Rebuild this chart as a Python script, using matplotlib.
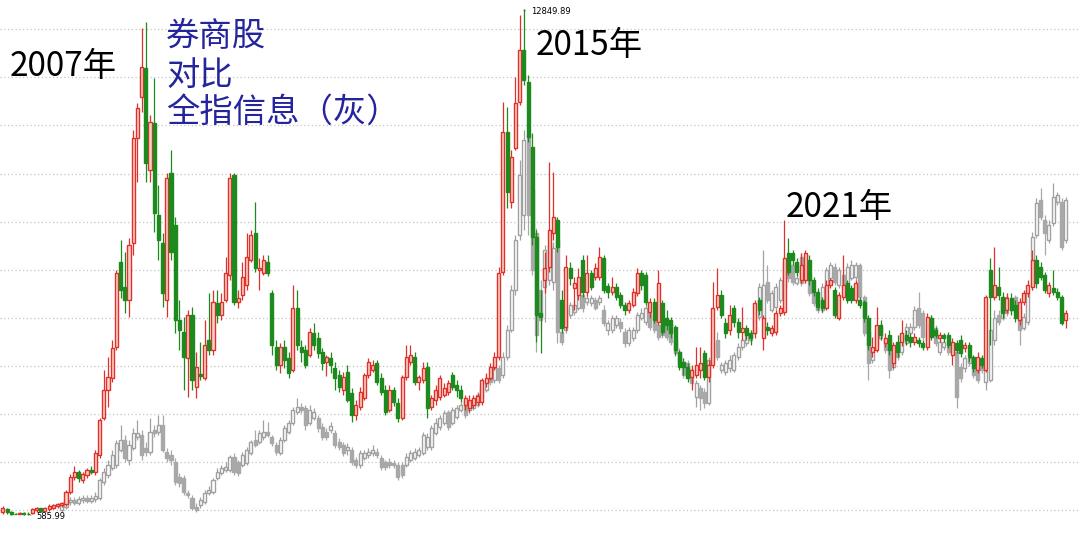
import numpy as np
import matplotlib.pyplot as plt
from matplotlib.ticker import NullLocator

plt.rcParams['font.family'] = ['Noto Sans CJK SC', 'DejaVu Sans']

# 券商股 monthly candles (open / close / high / low)
broker_open = [
    597, 608, 595, 590, 589, 593, 591, 594, 604, 610,
    600, 607, 613, 619, 623, 625, 674, 739, 762, 726,
    748, 771, 762, 846, 1060, 1258, 1355, 1637, 2754, 2363,
    2183, 3094, 5878, 7553, 9020, 4835, 6444, 3672, 3094, 2183,
    4748, 3454, 1931, 1794, 1531, 1991, 1281, 1388, 1355, 1709,
    1607, 2144, 1991, 2183, 2543, 4690, 2157, 2250, 2392, 2788,
    3290, 2622, 2574, 2754, 2278, 1637, 1467, 1637, 1531, 1422,
    2079, 1637, 1607, 1559, 1783, 1730, 1588, 1494, 1531, 1441,
    1380, 1258, 1405, 1235, 1080, 1134, 1198, 1380, 1422, 1485,
    1355, 1258, 1113, 1258, 1163, 1060, 1363, 1494, 1540, 1322,
    1338, 1449, 1134, 1184, 1205, 1220, 1243, 1380, 1297, 1258,
    1148, 1127, 1148, 1170, 1170, 1314, 1355, 1449, 1540, 2590,
    6098, 3976, 5529, 7324, 10070, 8279, 5562, 3210, 2016, 2467,
    2672, 3290, 3561, 2183, 1850, 2655, 2349, 2250, 2788, 2292,
    2574, 2513, 2513, 2822, 2378, 2292, 2363, 2250, 2117, 2053,
    2117, 2278, 2574, 2543, 2028, 2157, 1908, 2144, 1955, 1931,
    1850, 1588, 1494, 1449, 1363, 1380, 1422, 1578, 1363, 1467,
    2092, 2250, 1896, 1816, 2079, 1908, 1794, 1839, 1783, 1783,
    2183, 1730, 1850, 1783, 1794, 2016, 2028, 2911, 2911, 2754,
    2467, 2467, 2788, 2467, 2292, 2183, 2079, 2392, 2320, 1955,
    2223, 2423, 2349, 2183, 2183, 2157, 1955, 1588, 1607, 1873,
    1678, 1762, 1485, 1688, 1688, 1762, 1741, 1688, 1709, 1678,
    1637, 1955, 1816, 1730, 1762, 1762, 1559, 1678, 1709, 1627,
    1657, 1540, 1422, 1531, 1422, 2622, 2223, 2363, 2223, 2053,
    2210, 2117, 1931, 2157, 2278, 2363, 2788, 2672, 2543, 2278,
    2349, 2292, 2223, 1931,
]
broker_close = [
    612, 595, 590, 588, 593, 588, 589, 606, 610, 600,
    610, 619, 623, 626, 630, 674, 739, 762, 735, 753,
    771, 762, 856, 1047, 1258, 1363, 1627, 2575, 2320, 2183,
    3056, 5878, 7063, 9076, 5047, 6483, 3718, 3151, 2278, 4606,
    2928, 1931, 1816, 1540, 1991, 1338, 1449, 1372, 1657, 1607,
    2157, 1991, 2157, 2575, 4606, 2157, 2210, 2513, 2840, 3249,
    2655, 2655, 2788, 2575, 1657, 1467, 1637, 1512, 1396, 2079,
    1657, 1588, 1467, 1794, 1657, 1578, 1485, 1540, 1467, 1355,
    1281, 1363, 1184, 1080, 1148, 1243, 1380, 1494, 1467, 1322,
    1243, 1100, 1258, 1170, 1060, 1363, 1540, 1559, 1322, 1363,
    1441, 1127, 1198, 1258, 1355, 1274, 1314, 1281, 1258, 1198,
    1198, 1184, 1198, 1213, 1338, 1355, 1449, 1540, 2575, 6098,
    4227, 5236, 7280, 10070, 8380, 5914, 3210, 1991, 1967, 2655,
    3350, 3628, 3019, 1839, 2672, 2497, 2423, 2513, 2292, 2575,
    2363, 2655, 2840, 2320, 2292, 2363, 2223, 2117, 2053, 2144,
    2292, 2575, 2392, 2157, 2157, 1931, 2423, 1794, 1873, 1783,
    1607, 1449, 1449, 1355, 1422, 1467, 1485, 1363, 1467, 2079,
    2250, 1991, 1783, 1991, 1908, 1794, 1839, 1762, 1730, 2144,
    2053, 1955, 1816, 1839, 2016, 2079, 2822, 2590, 2788, 2590,
    2704, 2911, 2467, 2292, 2092, 2079, 2392, 2467, 1991, 2250,
    2392, 2183, 2183, 2423, 2117, 1955, 1657, 1637, 1873, 1762,
    1730, 1607, 1657, 1588, 1783, 1709, 1688, 1741, 1678, 1637,
    1967, 1741, 1762, 1762, 1730, 1657, 1688, 1607, 1578, 1657,
    1540, 1441, 1540, 1467, 2223, 2223, 2392, 2250, 2016, 2210,
    2053, 1955, 2157, 2278, 2392, 2788, 2423, 2513, 2320, 2392,
    2292, 2223, 1896, 2016,
]
broker_high = [
    619, 612, 600, 594, 598, 596, 598, 613, 616, 613,
    616, 628, 628, 632, 636, 682, 753, 790, 771, 762,
    780, 790, 872, 1060, 1422, 1540, 1709, 2622, 3151, 2928,
    3190, 6172, 7280, 11519, 11953, 6765, 8484, 4411, 3290, 4748,
    5460, 3628, 2183, 1967, 2053, 2092, 1588, 1688, 1931, 2278,
    2320, 2320, 2278, 2840, 4748, 4748, 2320, 2754, 3290, 3350,
    3976, 2822, 2874, 2874, 2320, 1709, 1678, 1709, 1588, 2392,
    2320, 1709, 1657, 1839, 1896, 1794, 1627, 1559, 1588, 1494,
    1422, 1405, 1467, 1274, 1184, 1281, 1396, 1531, 1512, 1512,
    1396, 1297, 1297, 1281, 1198, 1380, 1657, 1657, 1588, 1380,
    1494, 1494, 1220, 1297, 1380, 1314, 1338, 1405, 1338, 1297,
    1220, 1220, 1220, 1235, 1355, 1396, 1485, 1588, 2672, 7324,
    7107, 5460, 8536, 12500, 12849.89, 8640, 6061, 3350, 2320, 2928,
    5078, 4777, 3628, 2320, 2874, 2754, 2513, 2655, 2874, 2874,
    2622, 2738, 3019, 2874, 2423, 2513, 2423, 2292, 2157, 2183,
    2349, 2655, 2622, 2590, 2210, 2210, 2622, 2183, 2053, 1967,
    1873, 1607, 1531, 1485, 1467, 1637, 1637, 1607, 1512, 2437,
    2655, 2320, 1955, 2117, 2117, 1955, 2092, 1873, 1816, 2183,
    2223, 1991, 1908, 1873, 2053, 2117, 3561, 3190, 2964, 2822,
    2911, 2964, 2874, 2513, 2349, 2223, 2467, 2497, 2363, 2292,
    2874, 2467, 2392, 2467, 2223, 2183, 1991, 1741, 2092, 1931,
    1783, 1816, 1688, 1762, 1931, 1816, 1783, 1783, 1741, 1709,
    2016, 1991, 1850, 1794, 1783, 1794, 1730, 1709, 1762, 1688,
    1688, 1559, 1588, 1559, 2250, 2822, 3019, 2672, 2292, 2278,
    2278, 2183, 2210, 2320, 2467, 2964, 2874, 2754, 2590, 2437,
    2622, 2349, 2250, 2053,
]
broker_low = [
    590, 589, 587, 588, 588, 587, 585.99, 590, 598, 595,
    595, 600, 607, 613, 616, 620, 666, 726, 717, 713,
    735, 753, 748, 831, 1047, 1134, 1322, 1607, 2210, 2016,
    1967, 2874, 4493, 6892, 4493, 4493, 3310, 2788, 2092, 1967,
    2788, 1783, 1607, 1258, 1205, 1258, 1198, 1338, 1338, 1559,
    1559, 1896, 1931, 2157, 2467, 2117, 2079, 2183, 2320, 2754,
    2590, 2320, 2543, 2528, 1559, 1422, 1396, 1441, 1355, 1405,
    1607, 1494, 1441, 1540, 1607, 1531, 1422, 1372, 1396, 1258,
    1243, 1220, 1170, 1034, 1047, 1113, 1184, 1355, 1405, 1297,
    1220, 1080, 1100, 1141, 1034, 1047, 1338, 1467, 1297, 1258,
    1314, 1060, 1113, 1148, 1184, 1205, 1220, 1258, 1205, 1170,
    1113, 1100, 1127, 1148, 1148, 1281, 1338, 1422, 1512, 2543,
    3833, 3833, 5460, 7193, 8128, 5736, 3056, 1688, 1578, 2278,
    2590, 3151, 2928, 1783, 1816, 2392, 2053, 2183, 2223, 2236,
    2320, 2467, 2467, 2278, 2210, 2250, 2183, 2079, 1991, 2016,
    2092, 2236, 2320, 2117, 1955, 1896, 1873, 1762, 1816, 1730,
    1559, 1422, 1380, 1322, 1258, 1355, 1355, 1338, 1322, 1441,
    2053, 1955, 1730, 1762, 1850, 1730, 1709, 1709, 1657, 1730,
    1991, 1607, 1762, 1751, 1762, 1979, 1991, 2543, 2704, 2528,
    2423, 2423, 2392, 2236, 2053, 2028, 2053, 2349, 1955, 1931,
    2183, 2144, 2144, 2144, 2079, 1908, 1607, 1540, 1588, 1709,
    1637, 1559, 1441, 1540, 1647, 1657, 1637, 1657, 1637, 1607,
    1607, 1709, 1730, 1688, 1688, 1627, 1467, 1578, 1540, 1588,
    1494, 1405, 1396, 1441, 1405, 1657, 2183, 2183, 1955, 2016,
    1991, 1908, 1873, 2117, 2223, 2320, 2349, 2467, 2278, 2223,
    2250, 2183, 1873, 1839,
]

# 全指信息 (grey overlay), starts at month 14 of the broker series
info_first = 14
info_open = [
    604, 616, 634, 642, 630, 642, 650, 638, 646, 650,
    717, 748, 780, 795, 872, 927, 820, 883, 944, 956,
    883, 861, 985, 973, 1016, 861, 846, 810, 739, 735,
    670, 650, 616, 623, 634, 670, 674, 735, 757, 771,
    771, 836, 810, 795, 805, 856, 927, 916, 944, 973,
    944, 899, 856, 927, 973, 1028, 1100, 1134, 1127, 1028,
    1060, 1060, 1004, 973, 985, 967, 916, 899, 872, 872,
    820, 795, 830, 846, 856, 861, 830, 810, 810, 805,
    795, 795, 795, 820, 830, 846, 856, 888, 888, 967,
    1004, 1028, 1100, 1028, 1067, 1113, 1184, 1113, 1127, 1148,
    1198, 1258, 1355, 1338, 1441, 1380, 1540, 1816, 2320, 3249,
    3672, 5986, 4278, 3290, 2320, 2363, 2467, 2437, 3151, 1794,
    1816, 1991, 2028, 2079, 2250, 2157, 2144, 2183, 2157, 2053,
    1816, 1816, 1873, 1908, 1794, 1678, 1730, 1816, 1955, 1908,
    2016, 1991, 1873, 1839, 1931, 1896, 1709, 1588, 1494, 1485,
    1422, 1205, 1273, 1243, 1163, 1512, 1709, 1422, 1405, 1441,
    1422, 1540, 1637, 1678, 1709, 1783, 1967, 1955, 2437, 2053,
    2092, 2183, 2363, 2822, 2704, 2423, 2840, 2467, 2543, 2292,
    2183, 2053, 2363, 2497, 2672, 2392, 2543, 2423, 2497, 2513,
    2704, 2223, 1794, 1512, 1657, 1730, 1709, 1637, 1449, 1657,
    1588, 1678, 1783, 1850, 2079, 2016, 1816, 1839, 1839, 1588,
    1637, 1657, 1607, 1588, 1449, 1441, 1485, 1467, 1441, 1512,
    1322, 1338, 1709, 1991, 1955, 2223, 2053, 2223, 2079, 1839,
    1908, 2392, 3249, 4024, 3561, 3151, 3497, 3976, 3976, 3151,
]
info_close = [
    623, 642, 642, 630, 646, 650, 638, 650, 658, 726,
    762, 795, 846, 910, 927, 830, 899, 967, 967, 846,
    861, 973, 967, 1016, 872, 830, 820, 717, 713, 674,
    662, 612, 604, 642, 670, 682, 726, 762, 780, 786,
    836, 762, 757, 846, 872, 916, 899, 967, 973, 956,
    910, 861, 927, 998, 1028, 1113, 1134, 1113, 1016, 1113,
    1100, 998, 944, 944, 1010, 899, 888, 856, 888, 810,
    795, 856, 856, 861, 872, 846, 786, 786, 795, 795,
    739, 748, 836, 856, 861, 872, 956, 944, 998, 1028,
    1060, 1093, 1004, 1113, 1127, 1148, 1080, 1163, 1170, 1220,
    1281, 1338, 1322, 1441, 1338, 1540, 1816, 2320, 3151, 4690,
    5806, 3672, 2622, 1762, 1931, 2964, 3056, 3001, 1794, 1688,
    2079, 2117, 2117, 2250, 2079, 2210, 2210, 2079, 2210, 1896,
    1896, 1955, 1955, 1839, 1678, 1816, 1816, 1991, 2016, 2079,
    1850, 1816, 1741, 1762, 1741, 1688, 1578, 1485, 1380, 1363,
    1314, 1314, 1198, 1163, 1512, 1688, 1540, 1467, 1485, 1512,
    1559, 1637, 1709, 1783, 1762, 1967, 2363, 2392, 2183, 2278,
    2363, 2467, 2738, 2497, 2437, 2497, 2423, 2704, 2278, 2144,
    2053, 2363, 2622, 2704, 2437, 2622, 2363, 2672, 2704, 2704,
    2223, 1783, 1485, 1607, 1783, 1850, 1607, 1422, 1588, 1540,
    1762, 1850, 1850, 2053, 1873, 1741, 1709, 1955, 1678, 1688,
    1688, 1588, 1578, 1205, 1355, 1531, 1531, 1380, 1338, 1422,
    1422, 1816, 1955, 1908, 2183, 2016, 2183, 2053, 1816, 1967,
    2292, 3210, 3952, 3628, 3290, 3454, 4100, 4150, 3019, 4024,
]
info_high = [
    630, 650, 654, 654, 658, 662, 662, 662, 674, 735,
    780, 820, 872, 927, 1016, 956, 927, 998, 1047, 985,
    916, 1060, 1016, 1080, 1080, 883, 872, 830, 757, 748,
    682, 662, 630, 654, 682, 700, 735, 780, 795, 810,
    846, 856, 820, 861, 888, 927, 985, 985, 1047, 1034,
    956, 916, 944, 1016, 1047, 1134, 1198, 1163, 1148, 1148,
    1127, 1080, 1028, 998, 1034, 985, 938, 916, 910, 888,
    836, 872, 872, 883, 899, 883, 846, 820, 830, 820,
    810, 810, 856, 872, 883, 888, 973, 967, 1016, 1060,
    1080, 1113, 1113, 1134, 1148, 1170, 1198, 1184, 1198, 1243,
    1314, 1380, 1380, 1467, 1467, 1588, 1873, 2392, 3249, 5140,
    6172, 6249, 4548, 3392, 2467, 3056, 3151, 3113, 3350, 1873,
    2117, 2157, 2183, 2292, 2292, 2250, 2250, 2223, 2250, 2117,
    1931, 1991, 1991, 1955, 1839, 1850, 1850, 2028, 2079, 2117,
    2053, 2028, 1908, 1873, 1967, 1931, 1741, 1627, 1531, 1512,
    1449, 1338, 1297, 1273, 1540, 1730, 1794, 1494, 1512, 1559,
    1588, 1678, 1741, 1816, 1816, 2016, 2423, 2964, 2704, 2320,
    2423, 2513, 2822, 2964, 2788, 2574, 2911, 2754, 2590, 2349,
    2223, 2423, 2672, 2754, 2738, 2672, 2590, 2738, 2788, 2754,
    2738, 2250, 1816, 1637, 1816, 1896, 1741, 1678, 1627, 1688,
    1794, 1896, 1896, 2104, 2292, 2053, 1850, 1991, 1873, 1730,
    1730, 1688, 1637, 1607, 1485, 1559, 1559, 1494, 1467, 1540,
    1449, 1931, 2053, 2053, 2250, 2278, 2223, 2250, 2117, 2016,
    2349, 3310, 4075, 4332, 3672, 3561, 4466, 4227, 4075, 4100,
]
info_low = [
    597, 608, 623, 623, 623, 630, 630, 630, 634, 642,
    704, 735, 771, 780, 861, 810, 795, 872, 927, 820,
    841, 846, 944, 956, 861, 810, 795, 704, 696, 662,
    650, 604, 597, 612, 627, 662, 666, 726, 748, 762,
    762, 748, 744, 786, 795, 846, 888, 905, 927, 944,
    894, 846, 846, 916, 961, 1016, 1087, 1093, 985, 1016,
    1047, 973, 927, 927, 967, 883, 872, 841, 846, 795,
    780, 780, 820, 830, 841, 830, 771, 771, 780, 780,
    726, 735, 786, 810, 820, 836, 846, 872, 872, 956,
    985, 1016, 985, 1016, 1054, 1100, 1060, 1093, 1113, 1134,
    1184, 1243, 1297, 1314, 1314, 1355, 1512, 1794, 2250, 3151,
    3350, 3249, 2543, 1588, 1816, 1908, 2392, 2320, 1678, 1657,
    1783, 1955, 1991, 2053, 2028, 2117, 2104, 2053, 2117, 1862,
    1762, 1783, 1839, 1794, 1637, 1647, 1699, 1783, 1931, 1873,
    1816, 1783, 1709, 1730, 1709, 1657, 1550, 1458, 1355, 1338,
    1289, 1134, 1113, 1127, 1148, 1494, 1512, 1396, 1380, 1405,
    1405, 1512, 1607, 1647, 1678, 1762, 1931, 1931, 2144, 2028,
    2053, 2144, 2320, 2437, 2392, 2392, 2378, 2423, 2236, 2104,
    2016, 2016, 2320, 2467, 2392, 2349, 2320, 2378, 2467, 2467,
    2183, 1751, 1338, 1485, 1627, 1709, 1578, 1355, 1422, 1512,
    1559, 1657, 1751, 1816, 1839, 1709, 1678, 1816, 1647, 1559,
    1607, 1559, 1550, 1127, 1322, 1405, 1458, 1355, 1314, 1396,
    1258, 1322, 1657, 1873, 1931, 1979, 2016, 2016, 1657, 1816,
    1873, 2320, 3190, 3561, 2874, 3094, 3433, 3903, 2964, 3094,
]

# dotted horizontal grid of the trading software (log spaced)
grid_levels = [604, 810, 1087, 1459, 1958, 2627, 3525, 4730, 6347, 8517, 11428]


def draw_candles(ax, x, o, c, h, l, up_edge, up_face, down_color, z):
    x = np.asarray(x, dtype=float)
    o = np.asarray(o, dtype=float)
    c = np.asarray(c, dtype=float)
    h = np.asarray(h, dtype=float)
    l = np.asarray(l, dtype=float)
    up = c >= o
    wick_colors = [up_edge if u else down_color for u in up]
    ax.vlines(x, l, h, colors=wick_colors, linewidth=0.9, zorder=z)
    ax.bar(x[up], c[up] - o[up], bottom=o[up], width=0.72,
           facecolor=up_face, edgecolor=up_edge, linewidth=1.0, zorder=z + 0.1)
    ax.bar(x[~up], o[~up] - c[~up], bottom=c[~up], width=0.72,
           facecolor=down_color, edgecolor=down_color, linewidth=1.0, zorder=z + 0.1)


fig = plt.figure(figsize=(10.8, 5.38), dpi=100)
ax = fig.add_axes([0, 0, 1, 1])
ax.set_yscale('log')

x_broker = np.arange(len(broker_close))
x_info = np.arange(info_first, info_first + len(info_close))

draw_candles(ax, x_info, info_open, info_close, info_high, info_low,
             '#a0a0a0', 'white', '#a8a8a8', 2)
draw_candles(ax, x_broker, broker_open, broker_close, broker_high, broker_low,
             '#e0302a', '#f8d2ca', '#1d8a1d', 3)

ax.set_xlim(-0.71, 256.4)
ax.set_ylim(509, 13670)
ax.set_yticks(grid_levels)
ax.yaxis.set_minor_locator(NullLocator())
ax.set_xticks([])
ax.grid(axis='y', color='#c4c4c4', linestyle=(0, (1, 2)), linewidth=0.9)
ax.tick_params(length=0, labelleft=False, labelbottom=False)
for s in ax.spines.values():
    s.set_visible(False)

# high / low markers
i_hi = int(np.argmax(broker_high))
i_lo = int(np.argmin(broker_low))
ax.annotate(f'{broker_high[i_hi]:.2f}', xy=(i_hi, broker_high[i_hi]),
            xytext=(5, -1), textcoords='offset points', fontsize=6,
            family='DejaVu Sans', va='center', ha='left',
            arrowprops=dict(arrowstyle='-', color='black', lw=0.6))
ax.annotate(f'{broker_low[i_lo]:.2f}', xy=(i_lo, broker_low[i_lo]),
            xytext=(6, -1), textcoords='offset points', fontsize=6,
            family='DejaVu Sans', va='center', ha='left',
            arrowprops=dict(arrowstyle='-', color='black', lw=0.6))

fig.text(10 / 1080, 1 - 66 / 538, '2007年', fontsize=24, va='center', ha='left', fontweight='light')
fig.text(536 / 1080, 1 - 46 / 538, '2015年', fontsize=24, va='center', ha='left', fontweight='light')
fig.text(786 / 1080, 1 - 208 / 538, '2021年', fontsize=24, va='center', ha='left', fontweight='light')

blue = '#24249c'
fig.text(166 / 1080, 1 - 37 / 538, '券商股', fontsize=24, color=blue, va='center', ha='left', fontweight='light')
fig.text(166 / 1080, 1 - 75 / 538, '对比', fontsize=24, color=blue, va='center', ha='left', fontweight='light')
fig.text(166 / 1080, 1 - 112 / 538, '全指信息（灰）', fontsize=24, color=blue, va='center', ha='left', fontweight='light')

fig.savefig('out.png', dpi=100)
